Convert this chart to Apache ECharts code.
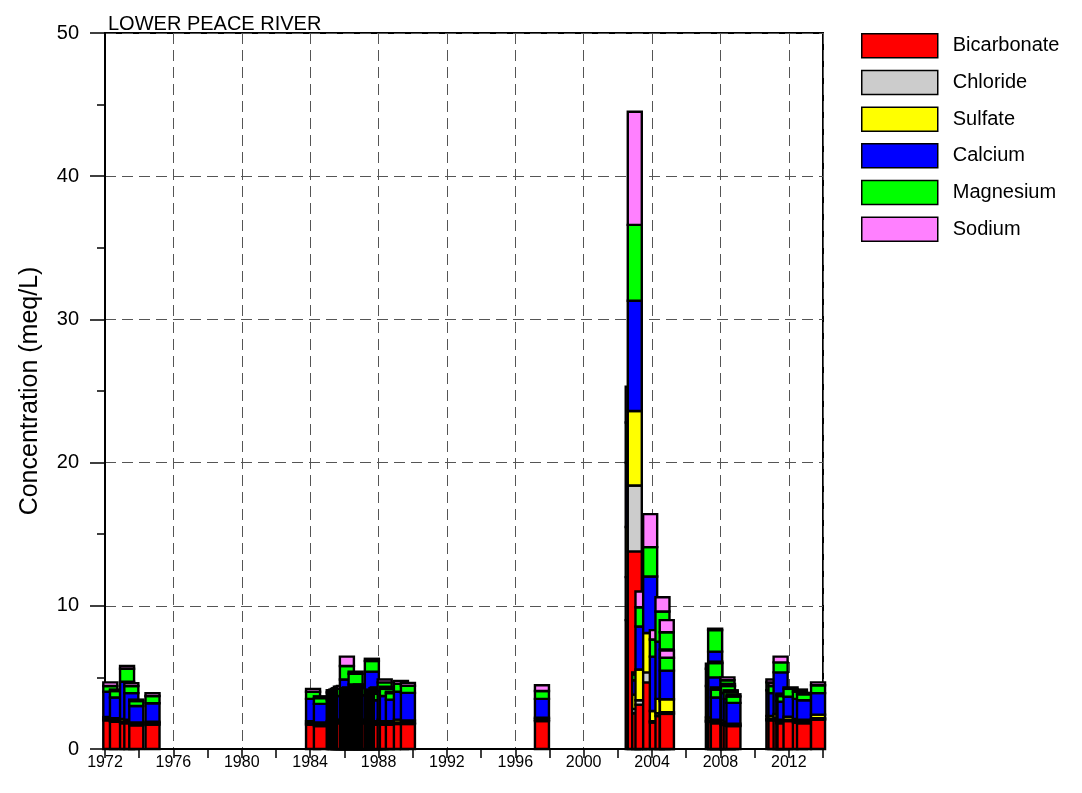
<!DOCTYPE html>
<html>
<head>
<meta charset="utf-8">
<script src="https://cdn.jsdelivr.net/npm/echarts@6/dist/echarts.min.js"></script>
<style>
  html, body { margin: 0; padding: 0; background: #fff; }
  #chart { width: 1082px; height: 793px; }
</style>
</head>
<body>
<div id="chart"></div>
<script>
// ion names and fill colours, bottom of the stack first
var ions = ['Bicarbonate', 'Chloride', 'Sulfate', 'Calcium', 'Magnesium', 'Sodium'];
var colors = ['#ff0000', '#cccccc', '#ffff00', '#0000ff', '#00ff00', '#ff80ff'];

// sample dates (decimal years), one stacked bar each, drawn in this order
var dates = [
  1972.31, 1972.70, 1973.29, 1973.54, 1973.83, 1974.78,
  1984.17, 1984.63, 1985.38, 1985.45, 1985.54, 1985.63, 1985.71, 1985.80, 1985.89, 1985.98,
  1986.15, 1986.24, 1986.33, 1986.40, 1986.47, 1986.56, 1986.66, 1986.74, 1986.82, 1986.90,
  1986.97, 1987.06, 1987.15, 1987.24, 1987.32, 1987.40, 1987.47, 1987.61, 1987.70, 1987.79,
  1987.88, 1987.96, 1988.05, 1988.14, 1988.36, 1988.49, 1988.84, 1989.31, 1989.72,
  1997.56,
  2002.87, 2002.99, 2003.25, 2003.44, 2003.89, 2004.28, 2004.61, 2004.86, 2004.87,
  2007.56, 2007.69, 2007.70, 2007.85, 2008.41, 2008.44, 2008.60, 2008.76,
  2011.10, 2011.22, 2011.52, 2011.68, 2011.75, 2012.10, 2012.65, 2012.89, 2013.71
];
var bicarbonate = [
  2.0, 1.9, 1.8, 1.8, 1.65, 1.7,
  1.7, 1.6, 1.7, 1.7, 1.75, 1.75, 1.75, 1.8, 1.8, 1.8,
  1.8, 1.75, 1.75, 1.7, 1.7, 1.75, 1.8, 1.8, 1.8, 1.8,
  1.8, 1.75, 1.75, 1.7, 1.7, 1.75, 1.8, 1.8, 1.7, 1.7,
  1.75, 1.75, 1.7, 1.7, 1.75, 1.7, 1.7, 1.75, 1.75,
  1.95,
  9.0, 13.8, 2.5, 3.1, 4.65, 1.85, 2.3, 2.3, 2.45,
  1.9, 1.9, 1.9, 1.8, 1.7, 1.7, 1.65, 1.6,
  2.0, 2.0, 2.0, 1.8, 1.8, 1.95, 1.85, 1.8, 2.05
];
var chloride = [
  0.08, 0.1, 0.1, 0.1, 0.1, 0.1,
  0.1, 0.1, 0.1, 0.1, 0.1, 0.1, 0.1, 0.1, 0.1, 0.1,
  0.1, 0.1, 0.1, 0.1, 0.1, 0.1, 0.1, 0.1, 0.1, 0.1,
  0.1, 0.1, 0.1, 0.1, 0.1, 0.1, 0.1, 0.1, 0.1, 0.1,
  0.1, 0.1, 0.1, 0.1, 0.1, 0.1, 0.1, 0.1, 0.08,
  0.1,
  3.0, 4.6, 0.3, 0.3, 0.7, 0.1, 0.2, 0.15, 0.12,
  0.1, 0.1, 0.1, 0.1, 0.1, 0.1, 0.1, 0.05,
  0.1, 0.1, 0.15, 0.1, 0.1, 0.1, 0.1, 0.1, 0.1
];
var sulfate = [
  0.15, 0.15, 0.2, 0.15, 0.1, 0.1,
  0.15, 0.15, 0.15, 0.15, 0.15, 0.15, 0.15, 0.15, 0.15, 0.15,
  0.2, 0.15, 0.15, 0.15, 0.15, 0.15, 0.2, 0.15, 0.15, 0.15,
  0.2, 0.15, 0.15, 0.15, 0.15, 0.15, 0.15, 0.2, 0.15, 0.15,
  0.15, 0.15, 0.15, 0.15, 0.2, 0.15, 0.15, 0.2, 0.17,
  0.13,
  3.5, 5.2, 1.0, 2.15, 2.75, 0.7, 1.0, 0.9, 0.9,
  0.2, 0.2, 0.2, 0.15, 0.2, 0.2, 0.15, 0.12,
  0.2, 0.2, 0.3, 0.15, 0.15, 0.2, 0.15, 0.15, 0.25
];
var calcium = [
  1.77, 1.45, 2.6, 1.85, 1.15, 1.3,
  1.55, 1.3, 1.5, 1.5, 1.5, 1.55, 1.6, 1.6, 1.6, 1.65,
  2.75, 1.6, 1.65, 1.6, 1.6, 1.6, 2.4, 1.65, 1.7, 1.7,
  1.7, 1.65, 1.65, 1.6, 1.6, 1.65, 1.7, 3.3, 1.55, 1.5,
  1.6, 1.65, 1.5, 1.45, 2.0, 1.75, 1.5, 1.95, 1.92,
  1.32,
  4.5, 7.7, 1.0, 3.0, 3.95, 3.8, 4.0, 3.6, 2.0,
  2.2, 4.6, 2.8, 1.55, 2.2, 1.9, 1.6, 1.45,
  1.8, 1.6, 2.9, 1.3, 1.25, 1.4, 1.4, 1.35, 1.5
];
var magnesium = [
  0.4, 0.45, 0.9, 0.5, 0.35, 0.5,
  0.5, 0.4, 0.5, 0.5, 0.5, 0.5, 0.5, 0.5, 0.5, 0.5,
  0.95, 0.5, 0.5, 0.5, 0.5, 0.5, 0.75, 0.5, 0.5, 0.55,
  0.55, 0.5, 0.5, 0.5, 0.5, 0.5, 0.5, 0.75, 0.5, 0.5,
  0.5, 0.5, 0.45, 0.45, 0.6, 0.5, 0.45, 0.55, 0.5,
  0.55,
  2.8, 5.3, 0.4, 1.35, 2.05, 1.2, 2.1, 1.2, 0.9,
  1.2, 1.5, 1.0, 0.55, 0.6, 0.5, 0.5, 0.45,
  0.55, 0.5, 0.7, 0.4, 0.4, 0.55, 0.5, 0.42, 0.55
];
var sodium = [
  0.25, 0.1, 0.2, 0.2, 0.1, 0.2,
  0.2, 0.13, 0.15, 0.15, 0.15, 0.15, 0.15, 0.2, 0.2, 0.2,
  0.65, 0.15, 0.15, 0.15, 0.15, 0.15, 0.15, 0.15, 0.15, 0.15,
  0.15, 0.15, 0.15, 0.15, 0.15, 0.15, 0.15, 0.15, 0.15, 0.15,
  0.15, 0.15, 0.15, 0.15, 0.2, 0.15, 0.1, 0.2, 0.2,
  0.4,
  2.5, 7.9, 0.15, 1.1, 2.3, 0.65, 1.0, 0.85, 0.5,
  0.35, 0.1, 0.1, 0.15, 0.2, 0.15, 0.1, 0.15,
  0.2, 0.2, 0.4, 0.12, 0.1, 0.1, 0.15, 0.1, 0.2
];

var HALF = 0.41;   // half bar width in years
var FONT = 'Liberation Sans, Arial, sans-serif';

var samples = [];
for (var i = 0; i < dates.length; i++) {
  samples.push([dates[i], bicarbonate[i], chloride[i], sulfate[i], calcium[i], magnesium[i], sodium[i]]);
}

function renderStack(params, api) {
  var t = api.value(0), base = 0, kids = [];
  for (var k = 0; k < ions.length; k++) {
    var v = api.value(k + 1);
    var lo = api.coord([t - HALF, base]);
    var hi = api.coord([t + HALF, base + v]);
    kids.push({
      type: 'rect',
      shape: { x: lo[0], y: hi[1], width: hi[0] - lo[0], height: lo[1] - hi[1] },
      style: { fill: colors[k], stroke: '#000', lineWidth: 2.4 }
    });
    base += v;
  }
  return { type: 'group', children: kids };
}

var chart = echarts.init(document.getElementById('chart'));

// empty series, only there so the legend has its six boxes
var legendSeries = ions.map(function (name, k) {
  return {
    name: name, type: 'bar', data: [],
    itemStyle: { color: colors[k], borderColor: '#000', borderWidth: 1.5 }
  };
});

var option = {
  animation: false,
  textStyle: { fontFamily: FONT },
  title: {
    text: 'LOWER PEACE RIVER',
    left: 103, top: 9,
    textStyle: { fontSize: 20, fontWeight: 'normal', color: '#000', fontFamily: FONT }
  },
  legend: {
    orient: 'vertical',
    left: 861, top: 33,
    padding: 0,
    icon: 'rect',
    itemWidth: 76, itemHeight: 24, itemGap: 11.2,
    selectedMode: false,
    data: ions,
    itemStyle: { borderColor: '#000', borderWidth: 1.5 },
    textStyle: { fontSize: 20, color: '#000', fontFamily: FONT, padding: [0, 0, 0, 10] }
  },
  grid: {
    left: 105, right: 259, top: 33, bottom: 44,
    show: true, borderColor: '#000', borderWidth: 2, backgroundColor: 'transparent'
  },
  xAxis: [
    {
      type: 'value', min: 1972, max: 2014, interval: 2,
      axisLine: { lineStyle: { color: '#000', width: 2 } },
      axisTick: { length: 9, lineStyle: { color: '#000', width: 1.5 } },
      axisLabel: {
        fontSize: 16, color: '#000', margin: 6, fontFamily: FONT,
        formatter: function (v) { return (v - 1972) % 4 === 0 && v < 2014 ? String(v) : ''; }
      },
      splitLine: { show: false }
    },
    {
      // only carries the dashed 4-year grid lines
      type: 'value', min: 1972, max: 2014, interval: 4, position: 'bottom',
      axisLine: { show: false }, axisTick: { show: false }, axisLabel: { show: false },
      splitLine: { show: true, lineStyle: { type: [11, 6], color: '#555', width: 1 } }
    }
  ],
  yAxis: {
    type: 'value', min: 0, max: 50, interval: 10,
    name: 'Concentration (meq/L)',
    nameLocation: 'middle', nameGap: 62,
    nameTextStyle: { fontSize: 25, color: '#000', fontFamily: FONT },
    axisLine: { show: true, lineStyle: { color: '#000', width: 2 } },
    axisTick: { show: true, length: 15, lineStyle: { color: '#000', width: 1.5 } },
    minorTick: { show: true, splitNumber: 2, length: 8, lineStyle: { color: '#000', width: 1.5 } },
    axisLabel: { fontSize: 20, color: '#000', margin: 26, fontFamily: FONT },
    splitLine: { show: true, lineStyle: { type: [11, 6], color: '#555', width: 1 } }
  },
  series: [{
    name: 'samples',
    type: 'custom',
    renderItem: renderStack,
    data: samples,
    encode: { x: 0, y: [1, 2, 3, 4, 5, 6] },
    clip: false,
    silent: true,
    z: 3
  }].concat(legendSeries)
};

chart.setOption(option);
</script>
</body>
</html>
